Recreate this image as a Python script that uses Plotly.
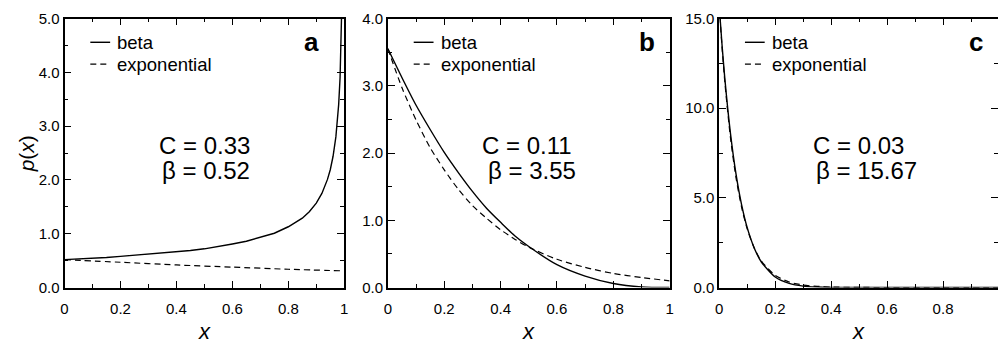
import plotly.graph_objects as go

# ---------------- data ----------------
x_a = [0, 0.05, 0.1, 0.15, 0.2, 0.25, 0.3, 0.35, 0.4, 0.45, 0.5, 0.55, 0.6, 0.65, 0.7, 0.75, 0.8,
       0.85, 0.875, 0.9, 0.92, 0.94, 0.95, 0.96, 0.97, 0.975, 0.98, 0.985, 0.99, 0.993]
beta_a = [0.52, 0.53, 0.55, 0.56, 0.58, 0.60, 0.62, 0.64, 0.66, 0.69, 0.72, 0.76, 0.81, 0.86, 0.93, 1.01, 1.13,
          1.29, 1.41, 1.57, 1.75, 2.01, 2.19, 2.44, 2.80, 3.06, 3.40, 3.90, 4.74, 5.63]
x_a_exp = [0, 0.2, 0.4, 0.6, 0.8, 1.0]
exp_a = [0.52, 0.47, 0.42, 0.38, 0.34, 0.31]

x_b = [0, 0.05, 0.1, 0.15, 0.2, 0.25, 0.3, 0.35, 0.4, 0.45, 0.5, 0.6, 0.7, 0.8, 0.9, 1.0]
beta_b = [3.55, 3.12, 2.71, 2.35, 2.01, 1.71, 1.43, 1.18, 0.97, 0.77, 0.61, 0.34, 0.17, 0.06, 0.01, 0.0]
exp_b = [3.55, 2.97, 2.49, 2.08, 1.75, 1.46, 1.22, 1.03, 0.86, 0.72, 0.60, 0.42, 0.30, 0.21, 0.15, 0.10]

x_c = [0, 0.01, 0.02, 0.04, 0.06, 0.08, 0.1, 0.125, 0.15, 0.2, 0.25, 0.3, 0.35, 0.4, 0.5, 0.6, 0.8, 1.0]
beta_c = [15.67, 13.52, 11.65, 8.61, 6.32, 4.61, 3.34, 2.21, 1.44, 0.59, 0.23, 0.08, 0.03, 0.01, 0.0, 0.0, 0.0, 0.0]
exp_c = [15.67, 13.40, 11.45, 8.37, 6.12, 4.47, 3.27, 2.21, 1.49, 0.68, 0.31, 0.14, 0.07, 0.03, 0.01, 0.0, 0.0, 0.0]

panel_letters = ["a", "b", "c"]
C_values = ["0.33", "0.11", "0.03"]
beta_values = ["0.52", "3.55", "15.67"]
legend_names = ["beta", "exponential"]
y_max = [5, 4, 15]
y_major = [1, 1, 5]
y_minor = [0.5, 0.5, 2.5]
x_tick_vals = [0, 0.2, 0.4, 0.6, 0.8, 1]
x_tick_text = ["0", "0.2", "0.4", "0.6", "0.8", "1"]

# ---------------- layout constants ----------------
W, H = 1002, 345
FONT = "Liberation Sans, Arial, Helvetica, sans-serif"
panel_px = [(61, 343), (387, 671), (721, 1002)]
x_ranges = [[0, 1], [0, 1], [0, (1002 - 721) / 282.0]]
top_px, bot_px = 10, 293
ydom = [1 - bot_px / H, 1 - top_px / H]
line_shapes = ["linear", "spline", "spline"]

fig = go.Figure()

series = [
    (x_a, beta_a, x_a_exp, exp_a),
    (x_b, beta_b, x_b, exp_b),
    (x_c, beta_c, x_c, exp_c),
]
for i, (xs, bs, xe, es) in enumerate(series):
    ax = "" if i == 0 else str(i + 1)
    fig.add_trace(go.Scatter(x=xs, y=bs, mode="lines", name=legend_names[0],
                             line=dict(color="black", width=1.4, shape=line_shapes[i], smoothing=0.7),
                             xaxis="x" + ax, yaxis="y" + ax, showlegend=False))
    fig.add_trace(go.Scatter(x=xe, y=es, mode="lines", name=legend_names[1],
                             line=dict(color="black", width=1.2, dash="6px,4px", shape="spline", smoothing=0.7),
                             xaxis="x" + ax, yaxis="y" + ax, showlegend=False))

# invisible trace for the right-hand tick axis of panel c
fig.add_trace(go.Scatter(x=[], y=[], xaxis="x3", yaxis="y4", showlegend=False, hoverinfo="skip"))

tickfont = dict(family=FONT, size=15, color="black")
layout = dict(width=W, height=H, margin=dict(l=0, r=0, t=0, b=0),
              paper_bgcolor="white", plot_bgcolor="white", showlegend=False,
              font=dict(family=FONT, color="black"))

for i in range(3):
    ax = "" if i == 0 else str(i + 1)
    l, r = panel_px[i]
    layout["xaxis" + ax] = dict(
        domain=[l / W, r / W], range=x_ranges[i], anchor="y" + ax,
        tickmode="array", tickvals=x_tick_vals, ticktext=x_tick_text,
        ticks="inside", ticklen=7, tickwidth=1.3, tickcolor="black",
        minor=dict(dtick=0.1, tick0=0, ticks="inside", ticklen=4, tickwidth=1.2, tickcolor="black"),
        showline=True, linecolor="black", linewidth=1.8, mirror="ticks",
        ticklabelstandoff=7,
        showgrid=False, zeroline=False, tickfont=tickfont, fixedrange=True)
    layout["yaxis" + ax] = dict(
        domain=ydom, range=[0, y_max[i]], anchor="x" + ax,
        tick0=0, dtick=y_major[i], tickformat=".1f",
        ticks="inside", ticklen=7, tickwidth=1.3, tickcolor="black",
        minor=dict(dtick=y_minor[i], tick0=0, ticks="inside", ticklen=4, tickwidth=1.2, tickcolor="black"),
        showline=True, linecolor="black", linewidth=1.8,
        mirror=("ticks" if i < 2 else False),
        showgrid=False, zeroline=False, tickfont=tickfont, fixedrange=True)

layout["yaxis4"] = dict(
    overlaying="y3", side="right", anchor="x3", range=[0, y_max[2]],
    tick0=0, dtick=y_major[2], ticks="inside", ticklen=7, tickwidth=1.3, tickcolor="black",
    minor=dict(dtick=y_minor[2], tick0=0, ticks="inside", ticklen=4, tickwidth=1.2, tickcolor="black"),
    showline=False, showticklabels=False, showgrid=False, zeroline=False, fixedrange=True)

annotations = []
shapes = []
# text positions in pixels relative to each panel
C_left = [(156, 159), (482, 488), (816, 819)]
letter_right = [320, 658, 990]
for i in range(3):
    ax = "" if i == 0 else str(i + 1)
    l, r = panel_px[i]
    wpx = 282 if i != 1 else 284
    hpx = bot_px - top_px

    def fx(px):
        return (px - l) / wpx

    def fy(py):
        return (bot_px - py) / hpx

    # panel letter
    annotations.append(dict(text="<b>%s</b>" % panel_letters[i], xref="x%s domain" % ax, yref="y%s domain" % ax,
                            x=fx(letter_right[i]), y=fy(35), xanchor="right", yanchor="middle",
                            showarrow=False, font=dict(family=FONT, size=26, color="black")))
    # C and beta
    annotations.append(dict(text="C = %s" % C_values[i], xref="x%s domain" % ax, yref="y%s domain" % ax,
                            x=fx(C_left[i][0] - 2), y=fy(144), xanchor="left", yanchor="middle",
                            showarrow=False, font=dict(family=FONT, size=24, color="black")))
    annotations.append(dict(text="β = %s" % beta_values[i], xref="x%s domain" % ax, yref="y%s domain" % ax,
                            x=fx(C_left[i][1] - 2), y=fy(170), xanchor="left", yanchor="middle",
                            showarrow=False, font=dict(family=FONT, size=24, color="black")))
    # legend
    for k, (name, yy) in enumerate(zip(legend_names, [35, 58])):
        shapes.append(dict(type="line", xref="x%s domain" % ax, yref="y%s domain" % ax,
                           x0=fx(l + 26), x1=fx(l + 46), y0=fy(yy), y1=fy(yy),
                           line=dict(color="black", width=1.2 if k else 1.4,
                                     dash=("6px,4px" if k else "solid"))))
        annotations.append(dict(text=name, xref="x%s domain" % ax, yref="y%s domain" % ax,
                                x=fx(l + 51), y=fy(yy), xanchor="left", yanchor="middle",
                                showarrow=False, font=dict(family=FONT, size=18.5, color="black")))
    # x axis title
    annotations.append(dict(text="<i>x</i>", xref="x%s domain" % ax, yref="paper",
                            x=0.5, y=1 - 339 / H, xanchor="center", yanchor="middle",
                            showarrow=False, font=dict(family=FONT, size=22, color="black")))

# y axis title
annotations.append(dict(text="<i>p</i>(<i>x</i>)", xref="paper", yref="paper",
                        x=23 / W, y=1 - 152 / H, xanchor="center", yanchor="middle", textangle=-90,
                        showarrow=False, font=dict(family=FONT, size=21, color="black")))

layout["annotations"] = annotations
layout["shapes"] = shapes
fig.update_layout(**layout)

fig.write_html("out.html")
